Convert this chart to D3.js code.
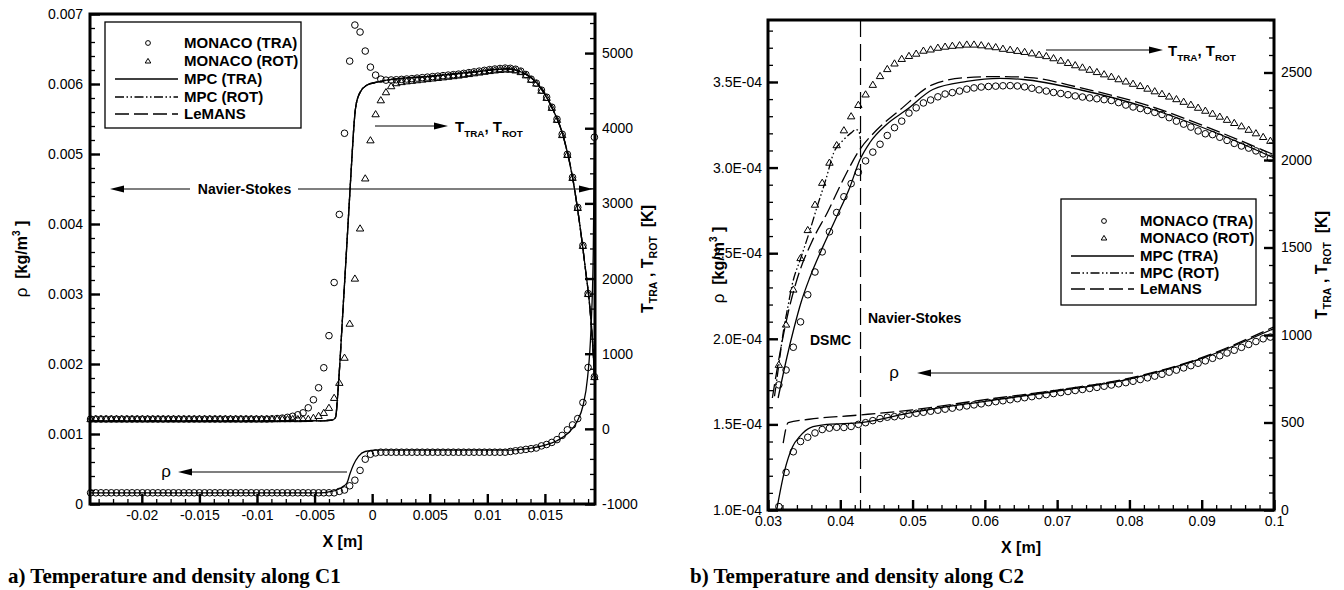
<!DOCTYPE html>
<html>
<head>
<meta charset="utf-8">
<script src="https://cdnjs.cloudflare.com/ajax/libs/d3/7.8.5/d3.min.js"></script>
<style>
  body { margin: 0; background: #fff; }
  svg { display: block; font-family: "Liberation Sans", Arial, Helvetica, sans-serif; }
  .axis text { font-size: 14px; font-family: "Liberation Sans", Arial, Helvetica, sans-serif; fill: #000; }
  .axis .domain { display: none; }
  .minor line { stroke-width: 1.3px; }
  .major line { stroke-width: 2.4px; }
  .bold { font-weight: bold; }
  .pre { white-space: pre; }
  .caption { font-family: "Liberation Serif", "Times New Roman", serif; font-weight: bold; font-size: 21px; }
</style>
</head>
<body>
<svg id="chart" width="1344" height="590"></svg>
<script>
// ---------- a) along C1 ----------
// MONACO samples, x in m
const c1X = [-0.02445,-0.024,-0.02355,-0.0231,-0.02265,-0.0222,-0.02175,-0.0213,-0.02085,-0.0204,
  -0.01995,-0.0195,-0.01905,-0.0186,-0.01815,-0.0177,-0.01725,-0.0168,-0.01635,-0.0159,
  -0.01545,-0.015,-0.01455,-0.0141,-0.01365,-0.0132,-0.01275,-0.0123,-0.01185,-0.0114,
  -0.01095,-0.0105,-0.01005,-0.0096,-0.00915,-0.0087,-0.00825,-0.0078,-0.00735,-0.0069,
  -0.00645,-0.006,-0.00555,-0.0051,-0.00465,-0.0042,-0.00375,-0.0033,-0.00285,-0.0024,
  -0.00195,-0.0015,-0.00105,-0.0006,-0.00015,0.0003,0.00075,0.0012,0.00165,0.0021,
  0.00255,0.003,0.00345,0.0039,0.00435,0.0048,0.00525,0.0057,0.00615,0.0066,
  0.00705,0.0075,0.00795,0.0084,0.00885,0.0093,0.00975,0.0102,0.01065,0.0111,
  0.01155,0.012,0.01245,0.0129,0.01335,0.0138,0.01425,0.0147,0.01515,0.0156,
  0.01605,0.0165,0.01695,0.0174,0.01785,0.0183,0.01875,0.0193];
const c1RhoMonaco = [0.00016,0.00016,0.00016,0.00016,0.00016,0.00016,0.00016,0.00016,0.00016,0.00016,
  0.00016,0.00016,0.00016,0.00016,0.00016,0.00016,0.00016,0.00016,0.00016,0.00016,
  0.00016,0.00016,0.00016,0.00016,0.00016,0.00016,0.00016,0.00016,0.00016,0.00016,
  0.00016,0.00016,0.00016,0.00016,0.00016,0.00016,0.00016,0.00016,0.00016,0.00016,
  0.00016,0.00016,0.00016,0.00016,0.00016,0.00016,0.00016,0.00016,0.00018,0.0002,
  0.00026,0.00034,0.00048,0.00064,0.00071,0.00073,0.00074,0.00074,0.00074,0.00074,
  0.00074,0.00074,0.00074,0.00074,0.00074,0.00074,0.00074,0.00074,0.00074,0.00074,
  0.00074,0.00074,0.00074,0.00074,0.00074,0.00074,0.00074,0.00074,0.00074,0.00074,
  0.00074,0.00075,0.00076,0.00077,0.00078,0.00079,0.0008,0.00083,0.00085,0.00088,
  0.00092,0.00098,0.00106,0.00113,0.00122,0.00145,0.00195,0.00524];
const c1TtraMonaco = [130,130,130,130,130,130,130,130,130,130,
  130,130,130,130,130,130,130,130,130,130,
  130,130,130,130,130,130,130,130,130,130,
  130,130,130,130,130,133,137,143,153,167,
  187,213,280,387,547,813,1240,1947,2853,3933,
  4893,5373,5280,5027,4813,4707,4653,4640,4642,4645,
  4650,4655,4660,4667,4673,4680,4687,4693,4700,4707,
  4713,4720,4730,4740,4750,4760,4770,4780,4788,4795,
  4800,4797,4785,4760,4715,4653,4600,4507,4413,4280,
  4120,3920,3653,3347,2947,2440,1800,693];
const c1TrotMonaco = [130,130,130,130,130,130,130,130,130,130,
  130,130,130,130,130,130,130,130,130,130,
  130,130,130,130,130,130,130,130,130,130,
  130,130,130,130,130,130,130,130,130,131,
  130,131,133,147,173,213,280,413,613,947,
  1400,2000,2667,3333,3840,4187,4373,4480,4560,4600,
  4615,4625,4632,4640,4648,4655,4663,4670,4678,4686,
  4694,4702,4712,4722,4732,4742,4752,4762,4770,4777,
  4782,4780,4770,4748,4705,4645,4595,4500,4405,4272,
  4112,3910,3645,3340,2940,2435,1795,690];

// MPC / LeMANS profiles (the three lines fall on top of each other here)
const c1LineTX = [-0.0245,-0.0045,-0.004,-0.00338,-0.00316,-0.00303,-0.00292,-0.00277,-0.00263,-0.00249,
  -0.00234,-0.00221,-0.00197,-0.00176,-0.00156,-0.00143,-0.00104,-0.00046,0.00041,0.00127,
  0.005,0.009,0.0117,0.013,0.0143,0.0156,0.0166,0.0174,0.018,0.0185,0.0189,0.0192,0.0193];
const c1MpcTraT = [107,107,110,120,160,373,600,960,1330,1700,
  2080,2420,3050,3600,4080,4280,4480,4573,4613,4640,
  4690,4750,4790,4745,4600,4280,3890,3347,2750,2150,1620,1000,700];
const c1MpcRotT = c1MpcTraT;
const c1LemansT = c1MpcTraT;
const c1LineRhoX = [-0.0245,-0.0045,-0.00364,-0.00306,-0.00263,-0.00219,-0.00191,-0.00162,-0.00119,-0.00061,
  0.00041,0.012,0.0135,0.015,0.016,0.017,0.0178,0.0183,0.0187,0.019,0.0192,0.0193];
const c1MpcRho = [0.000158,0.000158,0.000176,0.0002,0.00024,0.0003,0.00044,0.00056,0.00068,0.00075,
  0.00077,0.00077,0.00079,0.00084,0.0009,0.00101,0.00118,0.0014,0.0018,0.0025,0.0036,0.0052];

// ---------- b) along C2 ----------
const c2X = [0.0315,0.0325,0.0335,0.0345,0.0355,0.0365,0.0375,0.0385,0.0395,0.0405,
  0.0415,0.0425,0.0435,0.0445,0.0455,0.0465,0.0475,0.0485,0.0495,0.0505,
  0.0515,0.0525,0.0535,0.0545,0.0555,0.0565,0.0575,0.0585,0.0595,0.0605,
  0.0615,0.0625,0.0635,0.0645,0.0655,0.0665,0.0675,0.0685,0.0695,0.0705,
  0.0715,0.0725,0.0735,0.0745,0.0755,0.0765,0.0775,0.0785,0.0795,0.0805,
  0.0815,0.0825,0.0835,0.0845,0.0855,0.0865,0.0875,0.0885,0.0895,0.0905,
  0.0915,0.0925,0.0935,0.0945,0.0955,0.0965,0.0975,0.0985,0.0995];
const c2TtraMonaco = [715,800,930,1075,1230,1360,1475,1590,1700,1790,
  1865,1930,1995,2045,2090,2140,2185,2222,2268,2298,
  2326,2343,2361,2377,2385,2394,2405,2412,2417,2420,
  2422,2424,2425,2423,2418,2410,2401,2394,2386,2380,
  2373,2366,2360,2355,2350,2345,2340,2328,2314,2303,
  2294,2283,2272,2260,2242,2222,2205,2188,2166,2150,
  2145,2130,2112,2095,2080,2068,2052,2035,2010];
const c2TrotMonaco = [830,1060,1260,1440,1600,1745,1870,1985,2085,2170,
  2250,2315,2375,2430,2480,2520,2552,2578,2595,2608,
  2625,2632,2642,2648,2653,2656,2660,2660,2656,2650,
  2645,2636,2630,2624,2618,2610,2602,2594,2582,2568,
  2555,2542,2529,2516,2503,2490,2476,2462,2449,2436,
  2423,2408,2393,2378,2363,2348,2333,2316,2299,2282,
  2265,2248,2230,2212,2193,2173,2153,2132,2110];
const c2RhoMonaco = [1.02e-4,1.22e-4,1.34e-4,1.40e-4,1.425e-4,1.45e-4,1.47e-4,1.478e-4,1.483e-4,1.482e-4,
  1.488e-4,1.50e-4,1.51e-4,1.522e-4,1.534e-4,1.542e-4,1.545e-4,1.55e-4,1.56e-4,1.565e-4,
  1.571e-4,1.577e-4,1.583e-4,1.589e-4,1.595e-4,1.602e-4,1.608e-4,1.614e-4,1.62e-4,1.627e-4,
  1.633e-4,1.638e-4,1.644e-4,1.65e-4,1.656e-4,1.662e-4,1.668e-4,1.674e-4,1.68e-4,1.686e-4,
  1.692e-4,1.698e-4,1.704e-4,1.71e-4,1.716e-4,1.723e-4,1.73e-4,1.737e-4,1.744e-4,1.752e-4,
  1.762e-4,1.772e-4,1.782e-4,1.793e-4,1.805e-4,1.817e-4,1.83e-4,1.843e-4,1.857e-4,1.871e-4,
  1.886e-4,1.901e-4,1.917e-4,1.933e-4,1.95e-4,1.967e-4,1.984e-4,2.0e-4,2.01e-4];

const c2MpcTraX = [0.0314,0.0326,0.0336,0.0346,0.0358,0.0376,0.0395,0.0413,0.0427,0.0441,
  0.0464,0.0492,0.0528,0.0575,0.0621,0.0653,0.0733,0.0824,0.0917,0.1];
const c2MpcTraT = [640,870,1040,1190,1330,1505,1676,1842,2000,2100,
  2203,2288,2403,2449,2466,2460,2400,2300,2160,2012];
const c2MpcRotX = [0.0309,0.0315,0.0322,0.0327,0.0333,0.0346,0.0357,0.0368,0.038,0.0391,0.0405,0.0415,0.0422,0.0426,0.0428];
const c2MpcRotT = [650,830,1040,1150,1280,1447,1585,1733,1888,2042,2117,2155,2174,2160,2117];
const c2LemansX = [0.0306,0.0318,0.0328,0.034,0.0362,0.0382,0.0404,0.0427,0.0451,0.0483,
  0.0528,0.0575,0.0621,0.0662,0.0733,0.0824,0.0917,0.1];
const c2LemansT = [640,930,1130,1316,1545,1699,1888,2060,2174,2288,
  2431,2471,2477,2471,2412,2314,2172,2030];
const c2MpcRhoX = [0.0312,0.0323,0.0334,0.0344,0.0358,0.0382,0.0428,0.05,0.06,0.07,0.08,0.09,0.1];
const c2MpcRho = [1.0e-4,1.23e-4,1.37e-4,1.43e-4,1.48e-4,1.50e-4,1.51e-4,1.57e-4,1.635e-4,1.695e-4,1.765e-4,1.885e-4,2.06e-4];
const c2LemansRhoX = [0.0321,0.0328,0.0357,0.0427,0.05,0.06,0.07,0.08,0.09,0.1];
const c2LemansRho = [1.39e-4,1.51e-4,1.53e-4,1.555e-4,1.585e-4,1.645e-4,1.70e-4,1.77e-4,1.89e-4,2.07e-4];
const c2Interface = 0.0428;

const legendLabels = ["MONACO (TRA)", "MONACO (ROT)", "MPC (TRA)", "MPC (ROT)", "LeMANS"];
const captions = ["a) Temperature and density along C1", "b) Temperature and density along C2"];

// ---------- drawing ----------
const dashRot = "9,2.5,1.5,2.5,1.5,2.5";
const dashLemans = "14,5";
const triPath = "M0,-3.6L3.7,2.6L-3.7,2.6Z";

let svg = d3.select("#chart");
svg.append("rect").attr("width", 1344).attr("height", 590).attr("fill", "#fff");

let boxA = {left: 90, right: 595, top: 14, bottom: 504};
let boxB = {left: 768, right: 1274, top: 20, bottom: 510};

let xA = d3.scaleLinear().domain([-0.0245, 0.01935]).range([boxA.left, boxA.right]);
let rhoA = d3.scaleLinear().domain([0, 0.007]).range([boxA.bottom, boxA.top]);
let tA = d3.scaleLinear().domain([-1000, 5520]).range([boxA.bottom, boxA.top]);

let xB = d3.scaleLinear().domain([0.03, 0.1]).range([boxB.left, boxB.right]);
let rhoB = d3.scaleLinear().domain([1e-4, 3.862e-4]).range([boxB.bottom, boxB.top]);
let tB = d3.scaleLinear().domain([0, 2800]).range([boxB.bottom, boxB.top]);

function stepTicks(a, b, s) {
  let n = Math.round((b - a) / s);
  return d3.range(n + 1).map(i => +(a + i * s).toFixed(7));
}
let fmtPlain = d => String(+d.toFixed(6));
let fmtSci = d => {
  let [m, e] = d.toExponential(1).split("e");
  let n = +e;
  return m + "E" + (n < 0 ? "-" : "+") + String(Math.abs(n)).padStart(2, "0");
};

function addAxis(maker, scale, major, minor, fmt, pad, tx, ty) {
  svg.append("g").attr("class", "axis minor").attr("transform", `translate(${tx},${ty})`)
    .call(maker(scale).tickValues(minor).tickSize(-5).tickFormat(""));
  svg.append("g").attr("class", "axis major").attr("transform", `translate(${tx},${ty})`)
    .call(maker(scale).tickValues(major).tickSize(-10).tickPadding(pad).tickFormat(fmt));
}

function frame(box) {
  svg.append("rect")
    .attr("x", box.left).attr("y", box.top)
    .attr("width", box.right - box.left).attr("height", box.bottom - box.top)
    .attr("fill", "none").attr("stroke", "#000").attr("stroke-width", 3);
}

function clip(id, box) {
  svg.append("clipPath").attr("id", id).append("rect")
    .attr("x", box.left).attr("y", box.top)
    .attr("width", box.right - box.left).attr("height", box.bottom - box.top);
  return svg.append("g").attr("clip-path", `url(#${id})`);
}

function curve(g, xs, ys, x, y, dash) {
  let line = d3.line().x(d => x(d)).y((d, i) => y(ys[i])).curve(d3.curveMonotoneX);
  g.append("path").attr("d", line(xs))
    .attr("fill", "none").attr("stroke", "#000").attr("stroke-width", 1.3)
    .attr("stroke-dasharray", dash);
}

function circles(g, xs, ys, x, y) {
  g.append("g").selectAll("circle").data(xs).join("circle")
    .attr("cx", d => x(d)).attr("cy", (d, i) => y(ys[i])).attr("r", 3.3)
    .attr("fill", "none").attr("stroke", "#000").attr("stroke-width", 1);
}

function triangles(g, xs, ys, x, y) {
  g.append("g").selectAll("path").data(xs).join("path")
    .attr("d", triPath)
    .attr("transform", (d, i) => `translate(${x(d)},${y(ys[i])})`)
    .attr("fill", "none").attr("stroke", "#000").attr("stroke-width", 1);
}

function arrow(x1, x2, y) {
  let dir = x2 > x1 ? 1 : -1;
  svg.append("line").attr("x1", x1).attr("x2", x2 - dir * 8).attr("y1", y).attr("y2", y)
    .attr("stroke", "#000").attr("stroke-width", 1.2);
  svg.append("path").attr("d", `M${x2},${y}L${x2 - dir * 14},${y - 3.5}L${x2 - dir * 14},${y + 3.5}Z`)
    .attr("fill", "#000");
}

function tempText(t, size, sep) {
  let sub = size * 0.66, sh = size * 0.3;
  t.append("tspan").text("T");
  t.append("tspan").attr("font-size", sub).attr("dy", sh).text("TRA");
  t.append("tspan").attr("dy", -sh).text(sep + "T");
  t.append("tspan").attr("font-size", sub).attr("dy", sh).text("ROT");
  return t;
}

function tempTitle(cx, cy) {
  let t = svg.append("text").attr("class", "bold pre").attr("font-size", 16)
    .attr("text-anchor", "middle")
    .attr("transform", `translate(${cx},${cy}) rotate(-90)`).attr("dy", "0.35em");
  tempText(t, 16, " , ");
  t.append("tspan").attr("dy", -16 * 0.3).text("  [K]");
}

function rhoTitle(cx, cy) {
  let t = svg.append("text").attr("class", "pre").attr("font-size", 16)
    .attr("text-anchor", "middle")
    .attr("transform", `translate(${cx},${cy}) rotate(-90)`).attr("dy", "0.35em");
  t.append("tspan").attr("font-size", 17).text("ρ");
  t.append("tspan").attr("class", "bold").text("  [kg/m");
  t.append("tspan").attr("class", "bold").attr("font-size", 10).attr("dy", -7).text("3");
  t.append("tspan").attr("class", "bold").attr("dy", 7).text(" ]");
}

function legend(x0, y0, w, h, rows) {
  let g = svg.append("g").attr("transform", `translate(${x0},${y0})`);
  g.append("rect").attr("width", w).attr("height", h)
    .attr("fill", "#fff").attr("stroke", "#000").attr("stroke-width", 1.3);
  legendLabels.forEach(function(lab, i) {
    let y = rows[i];
    if (i == 0) {
      g.append("circle").attr("cx", 43).attr("cy", y).attr("r", 2.4)
        .attr("fill", "none").attr("stroke", "#000");
    } else if (i == 1) {
      g.append("path").attr("d", "M0,-2.6L2.8,2L-2.8,2Z").attr("transform", `translate(43,${y})`)
        .attr("fill", "none").attr("stroke", "#000");
    } else {
      g.append("line").attr("x1", 10).attr("x2", 73).attr("y1", y).attr("y2", y)
        .attr("stroke", "#000").attr("stroke-width", 1.3)
        .attr("stroke-dasharray", i == 3 ? dashRot : i == 4 ? dashLemans : null);
    }
    g.append("text").attr("class", "bold").attr("font-size", 15)
      .attr("x", 79).attr("y", y).attr("dy", "0.36em").text(lab);
  });
}

// ---- panel a ----
let gA = clip("clipA", boxA);
curve(gA, c1LineTX, c1LemansT, xA, tA, dashLemans);
curve(gA, c1LineTX, c1MpcRotT, xA, tA, dashRot);
curve(gA, c1LineTX, c1MpcTraT, xA, tA, null);
curve(gA, c1LineRhoX, c1MpcRho, xA, rhoA, null);

addAxis(d3.axisBottom, xA, stepTicks(-0.02, 0.015, 0.005), stepTicks(-0.02375, 0.01875, 0.00125), fmtPlain, 6, 0, boxA.bottom);
addAxis(d3.axisLeft, rhoA, stepTicks(0, 0.007, 0.001), stepTicks(0, 0.007, 0.0002), fmtPlain, 7, boxA.left, 0);
addAxis(d3.axisRight, tA, stepTicks(-1000, 5000, 1000), stepTicks(-1000, 5400, 200), fmtPlain, 7, boxA.right, 0);
frame(boxA);

let mA = svg.append("g");
circles(mA, c1X, c1RhoMonaco, xA, rhoA);
triangles(mA, c1X, c1TrotMonaco, xA, tA);
circles(mA, c1X, c1TtraMonaco, xA, tA);

legend(105, 22, 196, 106, [21, 39, 57, 75, 92]);

arrow(190, 110, 189);
arrow(298, 593, 189);
svg.append("text").attr("class", "bold").attr("font-size", 14).attr("text-anchor", "middle")
  .attr("x", 244.5).attr("y", 189).attr("dy", "0.36em").text("Navier-Stokes");
arrow(375, 448, 126);
tempText(svg.append("text").attr("class", "bold").attr("font-size", 15).attr("x", 455).attr("y", 132), 15, ", ");
arrow(347, 178, 472);
svg.append("text").attr("font-size", 17).attr("text-anchor", "middle")
  .attr("x", 166).attr("y", 472).attr("dy", "0.3em").text("ρ");

svg.append("text").attr("class", "bold").attr("font-size", 16).attr("text-anchor", "middle")
  .attr("x", (boxA.left + boxA.right) / 2).attr("y", 547).text("X [m]");
rhoTitle(21, 259);
tempTitle(647, 259);
svg.append("text").attr("class", "caption").attr("x", 8).attr("y", 583).text(captions[0]);

// ---- panel b ----
let gB = clip("clipB", boxB);
svg.append("line").attr("x1", xB(c2Interface)).attr("x2", xB(c2Interface))
  .attr("y1", boxB.top).attr("y2", boxB.bottom)
  .attr("stroke", "#000").attr("stroke-width", 1.2).attr("stroke-dasharray", "17,7");
curve(gB, c2LemansX, c2LemansT, xB, tB, dashLemans);
curve(gB, c2MpcRotX, c2MpcRotT, xB, tB, dashRot);
curve(gB, c2MpcTraX, c2MpcTraT, xB, tB, null);
curve(gB, c2LemansRhoX, c2LemansRho, xB, rhoB, dashLemans);
curve(gB, c2MpcRhoX, c2MpcRho, xB, rhoB, null);

addAxis(d3.axisBottom, xB, stepTicks(0.03, 0.1, 0.01), stepTicks(0.03, 0.1, 0.002), fmtPlain, 6, 0, boxB.bottom);
addAxis(d3.axisLeft, rhoB, stepTicks(1e-4, 3.5e-4, 0.5e-4), stepTicks(1e-4, 3.8e-4, 1e-5), fmtSci, 6, boxB.left, 0);
addAxis(d3.axisRight, tB, stepTicks(0, 2500, 500), stepTicks(0, 2800, 100), fmtPlain, 7, boxB.right, 0);
frame(boxB);

let mB = svg.append("g");
circles(mB, c2X, c2RhoMonaco, xB, rhoB);
triangles(mB, c2X, c2TrotMonaco, xB, tB);
circles(mB, c2X, c2TtraMonaco, xB, tB);

legend(1061, 199, 195, 106, [22, 39, 57, 74, 90]);

arrow(1046, 1163, 50);
tempText(svg.append("text").attr("class", "bold").attr("font-size", 15).attr("x", 1168).attr("y", 56), 15, ", ");
arrow(1133, 917, 373);
svg.append("text").attr("font-size", 17).attr("text-anchor", "middle")
  .attr("x", 894).attr("y", 373).attr("dy", "0.3em").text("ρ");
svg.append("text").attr("class", "bold").attr("font-size", 14).attr("x", 810).attr("y", 345).text("DSMC");
svg.append("text").attr("class", "bold").attr("font-size", 14).attr("x", 868).attr("y", 323).text("Navier-Stokes");

svg.append("text").attr("class", "bold").attr("font-size", 16).attr("text-anchor", "middle")
  .attr("x", (boxB.left + boxB.right) / 2).attr("y", 553).text("X [m]");
rhoTitle(718, 265);
tempTitle(1321, 265);
svg.append("text").attr("class", "caption").attr("x", 690).attr("y", 583).text(captions[1]);
</script>
</body>
</html>
